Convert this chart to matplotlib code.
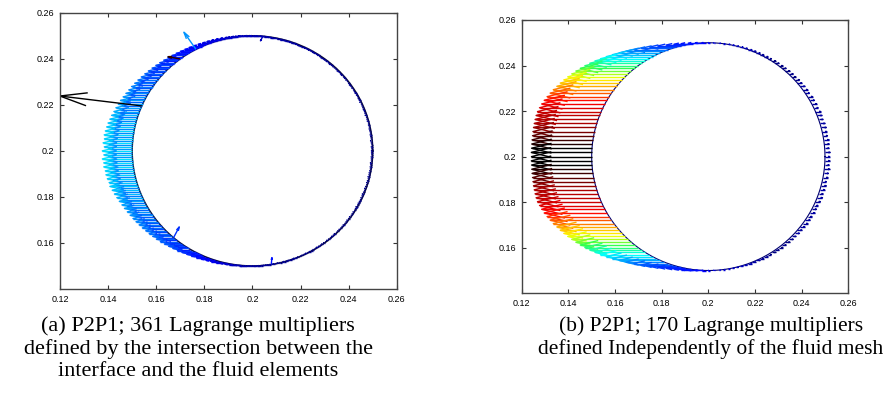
import numpy as np
import matplotlib.pyplot as plt
from matplotlib.collections import LineCollection
from matplotlib.colors import LinearSegmentedColormap

# circle (interface): centre and radius
cx, cy, radius = 0.2, 0.2, 0.05

# (a) 361 multipliers, one per degree, horizontal force magnitude (x 1e-4)
a_mag = [
    5, 4, 6, 3, 5, 7, 4, 5, 6, 4, 5, 6, 4, 5, 3, 6, 5, 4, 7, 5,
    4, 6, 5, 5, 4, 7, 5, 6, 4, 5, 6, 5, 4, 6, 5, 7, 5, 4, 6, 5,
    5, 7, 6, 5, 8, 6, 5, 7, 6, 8, 6, 8, 7, 6, 9, 7, 8, 6, 9, 8,
    7, 9, 8, 10, 8, 9, 11, 8, 10, 9, 9, 11, 10, 12, 9, 13, 11, 10, 12, 14,
    12, 15, 11, 14, 16, 13, 17, 15, 14, 18, 16, 19, 15, 18, 21, 17, 20, 23, 19, 22,
    25, 18, 27, 22, 29, 23, 31, 25, 33, 27, 35, 28, 38, 30, 41, 33, 44, 36, 46, 38,
    49, 40, 52, 42, 55, 45, 58, 47, 61, 50, 64, 52, 67, 55, 70, 57, 73, 60, 76, 62,
    79, 64, 82, 66, 85, 68, 88, 70, 90, 72, 93, 74, 96, 76, 99, 78, 101, 80, 104, 82,
    106, 84, 110, 86, 112, 88, 115, 90, 117, 92, 119, 93, 121, 94, 118, 96, 122, 95, 116, 97,
    124, 96, 118, 98, 125, 95, 121, 97, 123, 94, 119, 96, 120, 93, 118, 95, 115, 92, 117, 90,
    113, 88, 110, 86, 107, 84, 104, 82, 101, 80, 99, 78, 96, 76, 94, 74, 92, 72, 90, 70,
    88, 68, 86, 66, 84, 64, 82, 62, 80, 60, 78, 58, 75, 56, 72, 54, 69, 52, 66, 50,
    62, 48, 58, 45, 54, 42, 50, 38, 46, 35, 42, 31, 38, 28, 34, 25, 30, 22, 27, 20,
    24, 18, 21, 16, 18, 14, 16, 12, 14, 11, 12, 10, 11, 9, 10, 8, 9, 7, 9, 8,
    7, 9, 6, 8, 7, 5, 8, 6, 7, 5, 6, 8, 5, 7, 4, 6, 5, 7, 4, 6,
    5, 6, 4, 7, 5, 4, 6, 5, 3, 6, 5, 4, 6, 5, 7, 4, 5, 6, 4, 5,
    6, 4, 5, 7, 5, 6, 4, 5, 6, 4, 5, 7, 4, 6, 5, 4, 6, 5, 7, 5,
    4, 6, 5, 3, 6, 5, 4, 7, 5, 6, 5, 4, 6, 5, 7, 4, 5, 6, 4, 5, 5,
]

# (a) odd arrows: base angle (deg), u, v, colour level
a_odd_theta = [157, 118, 229, 279, 85, 127]
a_odd_u = [-0.034, -0.005, 0.0024, 0.0003, -0.001, -0.005]
a_odd_v = [0.0043, 0.0074, 0.0047, 0.003, -0.002, 0.001]
a_odd_level = [1.0, 0.25, 0.15, 0.12, 0.05, 0.97]

# (b) 170 multipliers, horizontal force (x 1e-3) and colour level
b_fx = [
    2.0, 2.2, 1.8, 2.1, 2.3, 1.9, 2.0, 2.2, 2.1, 1.8,
    2.0, 2.3, 1.9, 2.1, 2.0, 2.2, 1.8, 2.1, 2.0, 1.9,
    2.1, 1.8, 2.0, 1.9, 1.7, 1.8, 1.6, 1.7, 1.5, 1.6,
    1.4, 1.5, 1.3, 1.4, 1.2, 1.1, 1.0, 0.9, 0.8, 0.6,
    0.5, -0.5, -1.0, -1.8, -2.8, -4.0, -5.2, -6.5, -8.0, -9.8,
    -11.5, -13.2, -14.8, -16.3, -17.6, -18.8, -19.8, -20.7, -21.5, -22.2,
    -22.8, -23.3, -23.8, -24.2, -24.6, -25.0, -25.3, -25.6, -26.0, -26.3,
    -26.6, -26.9, -27.1, -27.2, -27.3, -27.2, -27.0, -26.8, -26.6, -26.4,
    -26.2, -26.1, -26.0, -25.9, -25.9, -25.8, -25.9, -25.9, -26.0, -26.1,
    -26.2, -26.4, -26.6, -26.8, -27.0, -27.2, -27.3, -27.2, -27.1, -26.9,
    -26.6, -26.3, -26.0, -25.6, -25.3, -25.0, -24.6, -24.2, -23.8, -23.3,
    -22.8, -22.2, -21.5, -20.7, -19.8, -18.8, -17.6, -16.3, -14.8, -13.2,
    -11.5, -9.8, -8.0, -6.5, -5.2, -4.0, -2.8, -1.8, -1.0, -0.5,
    0.5, 0.6, 0.8, 0.9, 1.0, 1.1, 1.2, 1.4, 1.3, 1.5,
    1.4, 1.6, 1.5, 1.7, 1.6, 1.8, 1.7, 1.9, 2.0, 1.8,
    2.1, 1.9, 2.0, 2.2, 2.1, 1.9, 2.2, 2.0, 1.8, 2.1,
    2.3, 1.9, 2.0, 2.2, 1.8, 2.1, 2.0, 2.3, 1.9, 2.1,
]
b_level = [
    0.03, 0.02, 0.03, 0.02, 0.03, 0.02, 0.03, 0.02, 0.03, 0.02,
    0.03, 0.02, 0.03, 0.02, 0.03, 0.02, 0.03, 0.02, 0.03, 0.02,
    0.01, 0.0, 0.01, 0.0, 0.01, 0.0, 0.01, 0.0, 0.01, 0.02,
    0.02, 0.03, 0.03, 0.04, 0.04, 0.05, 0.05, 0.06, 0.06, 0.07,
    0.08, 0.09, 0.10, 0.10, 0.11, 0.12, 0.12, 0.13, 0.14, 0.15,
    0.17, 0.19, 0.21, 0.24, 0.27, 0.30, 0.33, 0.36, 0.39, 0.42,
    0.45, 0.48, 0.51, 0.54, 0.57, 0.60, 0.63, 0.66, 0.70, 0.73,
    0.76, 0.79, 0.81, 0.83, 0.85, 0.86, 0.87, 0.88, 0.90, 0.92,
    0.94, 0.96, 0.98, 1.00, 1.00, 1.00, 1.00, 1.00, 0.98, 0.96,
    0.94, 0.92, 0.90, 0.88, 0.87, 0.86, 0.85, 0.83, 0.81, 0.79,
    0.76, 0.73, 0.70, 0.66, 0.63, 0.60, 0.57, 0.54, 0.51, 0.48,
    0.45, 0.42, 0.39, 0.36, 0.33, 0.30, 0.27, 0.24, 0.21, 0.19,
    0.17, 0.15, 0.14, 0.13, 0.12, 0.12, 0.11, 0.10, 0.10, 0.09,
    0.08, 0.07, 0.06, 0.06, 0.05, 0.05, 0.04, 0.04, 0.03, 0.03,
    0.02, 0.02, 0.01, 0.0, 0.01, 0.0, 0.01, 0.0, 0.01, 0.02,
    0.03, 0.02, 0.03, 0.02, 0.03, 0.02, 0.03, 0.02, 0.03, 0.02,
    0.03, 0.02, 0.03, 0.02, 0.03, 0.02, 0.03, 0.02, 0.03, 0.02,
]

xticks = [0.12, 0.14, 0.16, 0.18, 0.2, 0.22, 0.24, 0.26]
yticks = [0.16, 0.18, 0.2, 0.22, 0.24, 0.26]

captions_a = ["(a) P2P1; 361 Lagrange multipliers",
              "defined by the intersection between the",
              "interface and the fluid elements"]
captions_b = ["(b) P2P1; 170 Lagrange multipliers",
              "defined Independently of the fluid mesh"]

cmap = LinearSegmentedColormap.from_list("jetblack", [
    (0.0, (0, 0, 0.5)), (0.1, (0, 0, 1)), (0.36, (0, 1, 1)),
    (0.48, (0.2, 1, 0.3)), (0.58, (1, 1, 0)), (0.7, (1, 0.5, 0)),
    (0.8, (1, 0, 0)), (0.9, (0.6, 0, 0)), (1.0, (0, 0, 0))])


def matlab_quiver(ax, x, y, u, v, levels, lw=0.9, alpha=0.33, beta=0.25):
    segs, cols = [], []
    for xi, yi, ui, vi, lv in zip(x, y, u, v, levels):
        tx, ty = xi + ui, yi + vi
        h1 = (tx - alpha * (ui + beta * vi), ty - alpha * (vi - beta * ui))
        h2 = (tx - alpha * (ui - beta * vi), ty - alpha * (vi + beta * ui))
        segs.append([(xi, yi), (tx, ty)])
        segs.append([h1, (tx, ty), h2])
        cols += [cmap(lv), cmap(lv)]
    ax.add_collection(LineCollection(segs, colors=cols, linewidths=lw))


def style_axes(ax):
    ax.set_xlim(0.12, 0.26)
    ax.set_ylim(0.14, 0.26)
    ax.set_xticks(xticks)
    ax.set_yticks(yticks)
    ax.set_xticklabels([f"{t:g}" for t in xticks])
    ax.set_yticklabels([f"{t:g}" for t in yticks])
    ax.tick_params(direction="in", top=True, right=True, length=3,
                   labelsize=6.5, width=0.8, colors="#333333", pad=4)
    for lab in ax.get_xticklabels() + ax.get_yticklabels():
        lab.set_color("black")
        lab.set_family("Liberation Sans")
    for s in ax.spines.values():
        s.set_linewidth(1.0)
        s.set_color("#444444")


def draw_circle(ax, color, lw):
    t = np.linspace(0, 2 * np.pi, 400)
    ax.plot(cx + radius * np.cos(t), cy + radius * np.sin(t), color=color, lw=lw)


fig = plt.figure(figsize=(8.91, 4.08), dpi=100)
ax1 = fig.add_axes([0.0673, 0.2917, 0.378, 0.677])
ax2 = fig.add_axes([0.5855, 0.2811, 0.3666, 0.670])

# (a)
ta = np.deg2rad(np.arange(len(a_mag)))
mag_a = np.array(a_mag) * 1e-4
max_a = np.hypot(a_odd_u[0], a_odd_v[0])
draw_circle(ax1, "#0a0a30", 1.1)
matlab_quiver(ax1, cx + radius * np.cos(ta), cy + radius * np.sin(ta),
              -mag_a, np.zeros_like(mag_a), 0.9 * mag_a / max_a, lw=1.0)
to = np.deg2rad(a_odd_theta)
matlab_quiver(ax1, cx + radius * np.cos(to), cy + radius * np.sin(to),
              a_odd_u, a_odd_v, a_odd_level, lw=1.0)
style_axes(ax1)

# (b)
tb = np.arange(len(b_fx)) * 2 * np.pi / len(b_fx)
fx_b = np.array(b_fx) * 1e-3
draw_circle(ax2, "#000070", 0.8)
matlab_quiver(ax2, cx + radius * np.cos(tb), cy + radius * np.sin(tb),
              fx_b, np.zeros_like(fx_b), b_level, lw=1.0)
style_axes(ax2)

cap_kw = dict(ha="center", va="center", family="Liberation Serif")
for i, line in enumerate(captions_a):
    fig.text(198 / 891, 1 - (326 + 23 * i) / 408, line, fontsize=16, **cap_kw)
for i, line in enumerate(captions_b):
    fig.text(711 / 891, 1 - (326 + 23 * i) / 408, line, fontsize=15.5, **cap_kw)

fig.savefig("out.png", dpi=100)
